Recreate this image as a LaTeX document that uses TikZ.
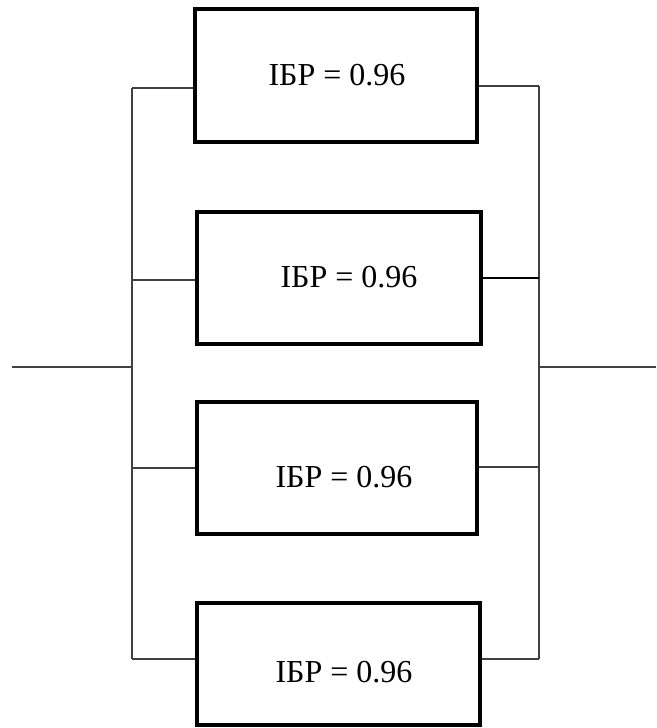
\documentclass[tikz,border=0pt]{standalone}
\usepackage{fontspec}
\setmainfont{Liberation Serif}
\newfontfamily\lblfont{Liberation Serif}
\begin{document}
\begin{tikzpicture}[x=1pt,y=-1pt,
  blk/.style={draw=black,line width=3.2pt,minimum width=#1,inner sep=0pt},
  wire/.style={draw=black!75,line width=1.8pt},
  lbl/.style={font=\lblfont\fontsize{32}{38}\selectfont,inner sep=0pt}]
\useasboundingbox (0,0) rectangle (656,728);
% boxes
\node[blk=282pt,minimum height=133pt] (b1) at (336,75.5) {};
\node[blk=284pt,minimum height=132pt] (b2) at (339,278) {};
\node[blk=280pt,minimum height=132pt] (b3) at (337,468) {};
\node[blk=283pt,minimum height=122pt] (b4) at (338.5,664) {};
% texts
\node[lbl] (t1) at (337,75) {ІБР = 0.96};
\node[lbl] (t2) at (349,277) {ІБР = 0.96};
\node[lbl] (t3) at (344,477) {ІБР = 0.96};
\node[lbl] (t4) at (344,672) {ІБР = 0.96};
% bus junctions
\coordinate (L1) at (132,88);
\coordinate (L2) at (132,280);
\coordinate (L3) at (132,468);
\coordinate (L4) at (132,659);
\coordinate (R1) at (539,86);
\coordinate (R2) at (539,278);
\coordinate (R3) at (539,467);
\coordinate (R4) at (539,659);
\coordinate (Lm) at (132,367);
\coordinate (Rm) at (539,367);
\coordinate (in) at (12,367);
\coordinate (out) at (656,367);
% buses
\draw[wire] (L1) -- (L4);
\draw[wire] (R1) -- (R4);
\draw[wire] (in) -- (Lm);
\draw[wire] (Rm) -- (out);
% branches
\draw[wire] (L1) -- (b1.west |- L1);
\draw[wire] (L2) -- (b2.west |- L2);
\draw[wire] (L3) -- (b3.west |- L3);
\draw[wire] (L4) -- (b4.west |- L4);
\draw[wire] (b1.east |- R1) -- (R1);
\draw[wire,draw=black,line width=2.6pt] (b2.east |- R2) -- (R2);
\draw[wire] (b3.east |- R3) -- (R3);
\draw[wire] (b4.east |- R4) -- (R4);
\end{tikzpicture}
\end{document}
